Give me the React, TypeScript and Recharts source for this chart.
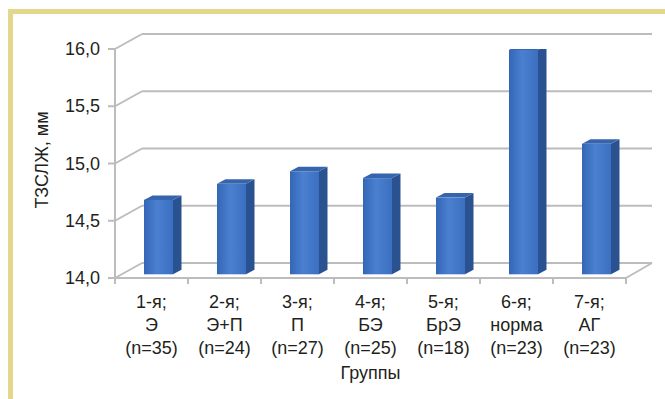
import React from 'react';
import { BarChart, Bar, XAxis, YAxis, CartesianGrid, Label } from 'recharts';

// Group labels (three lines under each column)
const groupNumbers = ['1-я;', '2-я;', '3-я;', '4-я;', '5-я;', '6-я;', '7-я;'];
const groupNames = ['Э', 'Э+П', 'П', 'БЭ', 'БрЭ', 'норма', 'АГ'];
const groupSizes = [35, 24, 27, 25, 18, 23, 23];

// Mean thickness per group, mm
const thicknessValues = [14.65, 14.79, 14.9, 14.84, 14.67, 15.96, 15.14];

const yTicks = [14, 14.5, 15, 15.5, 16];
const yDomain: [number, number] = [14, 16];

const data = groupNumbers.map((g, i) => ({
  key: String(i),
  num: g,
  name: groupNames[i],
  n: `(n=${groupSizes[i]})`,
  value: thicknessValues[i],
}));

const W = 665;
const H = 399;
const PLOT_LEFT = 115;
const PLOT_RIGHT = 626;
const BAND = (PLOT_RIGHT - PLOT_LEFT) / data.length;

// Pseudo-3D geometry: back wall offset and bar depth
const WALL_DX = 27;
const WALL_DY = 15;
const BAR_SHIFT_X = 7;
const BAR_SHIFT_Y = 3.7;
const BAR_DX = 8.5;
const BAR_DY = 4.5;

const GRID = '#bcbcbc';
const TEXT = '#231f20';
const FONT = "'Liberation Sans', Arial, sans-serif";

const BackGridLine = (props: any) => {
  const { x1, x2, y1 } = props;
  return (
    <g key={`g-${y1}`}>
      <line x1={x1 - 7} y1={y1} x2={x1} y2={y1} stroke={GRID} strokeWidth={2} />
      <line x1={x1} y1={y1} x2={x1 + WALL_DX} y2={y1 - WALL_DY} stroke={GRID} strokeWidth={2} />
      <line x1={x1 + WALL_DX} y1={y1 - WALL_DY} x2={x2 + WALL_DX - 1} y2={y1 - WALL_DY} stroke={GRID} strokeWidth={2} />
    </g>
  );
};

const Bar3D = (props: any) => {
  const { x, y, width, height } = props;
  if (height == null || height <= 0) return null;
  const fx = x + BAR_SHIFT_X;
  const fy = y - BAR_SHIFT_Y;
  const w = width;
  const h = height;
  const top = `${fx},${fy} ${fx + BAR_DX},${fy - BAR_DY} ${fx + w + BAR_DX},${fy - BAR_DY} ${fx + w},${fy}`;
  const side = `${fx + w},${fy} ${fx + w + BAR_DX},${fy - BAR_DY} ${fx + w + BAR_DX},${fy + h - BAR_DY} ${fx + w},${fy + h}`;
  return (
    <g>
      <polygon points={side} fill="#2b5290" />
      <polygon points={top} fill="#3664ad" />
      <rect x={fx} y={fy} width={w} height={h} fill="url(#frontFace)" />
    </g>
  );
};

const XTick = (props: any) => {
  const { x, y, index, payload } = props;
  const d = data[index] ?? data.find((r) => r.key === payload.value);
  const isLast = index === data.length - 1;
  return (
    <g>
      {index === 0 && (
        <line x1={x - BAND / 2} y1={y} x2={x - BAND / 2} y2={y + 6} stroke={GRID} strokeWidth={2} />
      )}
      <line x1={x + BAND / 2} y1={y} x2={x + BAND / 2} y2={y + 6} stroke={GRID} strokeWidth={2} />
      {isLast && (
        <line
          x1={x + BAND / 2}
          y1={y}
          x2={x + BAND / 2 + WALL_DX - 1}
          y2={y - WALL_DY}
          stroke={GRID}
          strokeWidth={2}
        />
      )}
      <text x={x} textAnchor="middle" fill={TEXT} fontSize={18} fontFamily={FONT}>
        <tspan x={x} y={y + 30}>{d.num}</tspan>
        <tspan x={x} y={y + 53}>{d.name}</tspan>
        <tspan x={x} y={y + 76}>{d.n}</tspan>
      </text>
    </g>
  );
};

const YTick = (props: any) => {
  const { y, payload } = props;
  return (
    <text x={100} y={y + 6} textAnchor="end" fill={TEXT} fontSize={18} fontFamily={FONT}>
      {Number(payload.value).toFixed(1).replace('.', ',')}
    </text>
  );
};

export default function App() {
  return (
    <div style={{ position: 'absolute', left: 0, top: 0, width: W, height: H, background: '#fff', overflow: 'hidden' }}>
      <div
        style={{
          position: 'absolute',
          left: 8,
          top: 9,
          right: -20,
          bottom: -20,
          borderTop: '5px solid #e2d78a',
          borderLeft: '5px solid #e2d78a',
        }}
      />
      <div style={{ position: 'absolute', left: 0, top: 0 }}>
        <BarChart width={W} height={H} data={data} margin={{ top: 49, right: W - PLOT_RIGHT, bottom: 0, left: 0 }} barSize={29}>
          <defs>
            <linearGradient id="frontFace" x1="0" y1="0" x2="1" y2="0">
              <stop offset="0%" stopColor="#3466b6" />
              <stop offset="45%" stopColor="#4a80cf" />
              <stop offset="100%" stopColor="#3b70c0" />
            </linearGradient>
          </defs>
          <CartesianGrid vertical={false} horizontal={BackGridLine} />
          <XAxis
            dataKey="key"
            height={H - 278}
            tickSize={0}
            tickMargin={0}
            tickLine={false}
            axisLine={{ stroke: GRID, strokeWidth: 2 }}
            tick={<XTick />}
            interval={0}
          >
            <Label
              content={() => (
                <text x={(PLOT_LEFT + PLOT_RIGHT) / 2} y={379} textAnchor="middle" fill={TEXT} fontSize={18} fontFamily={FONT}>
                  Группы
                </text>
              )}
            />
          </XAxis>
          <YAxis
            width={PLOT_LEFT}
            domain={yDomain}
            ticks={yTicks}
            interval={0}
            tickLine={false}
            axisLine={{ stroke: GRID, strokeWidth: 2 }}
            tick={<YTick />}
            allowDataOverflow
          >
            <Label
              content={() => (
                <text
                  x={48}
                  y={160}
                  textAnchor="middle"
                  transform="rotate(-90 48 160)"
                  fill={TEXT}
                  fontSize={18}
                  fontFamily={FONT}
                >
                  ТЗСЛЖ, мм
                </text>
              )}
            />
          </YAxis>
          <Bar dataKey="value" isAnimationActive={false} shape={<Bar3D />} />
        </BarChart>
      </div>
    </div>
  );
}
